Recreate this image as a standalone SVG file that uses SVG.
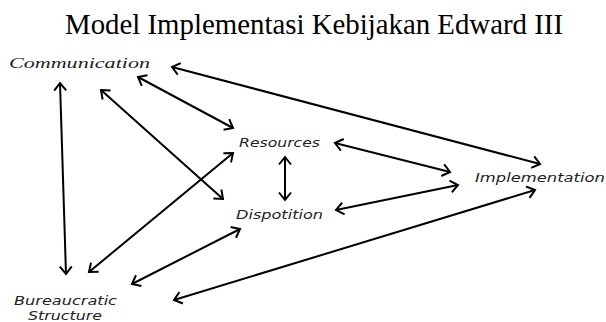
<svg xmlns="http://www.w3.org/2000/svg" width="606" height="322" viewBox="0 0 606 322">
<style>
.title{font-family:"Liberation Serif","Times New Roman",serif;font-size:29px;fill:#000}
.lbl{font-family:"DejaVu Sans","Verdana",sans-serif;font-style:italic;font-size:11.5px;fill:#222}
.comm{font-family:"Liberation Serif","Times New Roman",serif;font-style:italic;font-size:15px;fill:#222}
.c line{stroke:#000;stroke-width:2;fill:none;marker-start:url(#ah);marker-end:url(#ah)}
</style>
<defs>
<marker id="ah" markerUnits="userSpaceOnUse" markerWidth="20" markerHeight="20" refX="0" refY="0" viewBox="-10 -10 20 20" orient="auto-start-reverse" overflow="visible">
<path d="M-7.5,-6 L0,0 L-7.5,6" fill="none" stroke="#000" stroke-width="2" stroke-linejoin="miter"/>
</marker>
</defs>
<rect width="606" height="322" fill="#fff"/>
<g id="title"><text class="title" x="65" y="34" textLength="498" lengthAdjust="spacingAndGlyphs">Model Implementasi Kebijakan Edward III</text></g>
<g id="communication"><text class="comm" x="9" y="68" textLength="141" lengthAdjust="spacingAndGlyphs">Communication</text></g>
<g id="resources"><text class="lbl" x="239" y="147" textLength="81" lengthAdjust="spacingAndGlyphs">Resources</text></g>
<g id="dispotition"><text class="lbl" x="236" y="219" textLength="87" lengthAdjust="spacingAndGlyphs">Dispotition</text></g>
<g id="implementation"><text class="lbl" x="475" y="182" textLength="130" lengthAdjust="spacingAndGlyphs">Implementation</text></g>
<g id="bureaucratic"><text class="lbl" x="14" y="305" textLength="103" lengthAdjust="spacingAndGlyphs">Bureaucratic</text><text class="lbl" x="28" y="320" textLength="74" lengthAdjust="spacingAndGlyphs">Structure</text></g>
<g id="connectors" class="c">
<line x1="60" y1="83" x2="66" y2="274"/>
<line x1="101" y1="90" x2="223" y2="199"/>
<line x1="138" y1="77" x2="233" y2="128"/>
<line x1="172" y1="67" x2="540" y2="164"/>
<line x1="285" y1="157" x2="285" y2="200"/>
<line x1="335" y1="143" x2="450" y2="172"/>
<line x1="336" y1="210" x2="458" y2="185"/>
<line x1="233" y1="153" x2="89" y2="272"/>
<line x1="240" y1="229" x2="132" y2="284"/>
<line x1="535" y1="190" x2="174" y2="300"/>
</g>
</svg>
